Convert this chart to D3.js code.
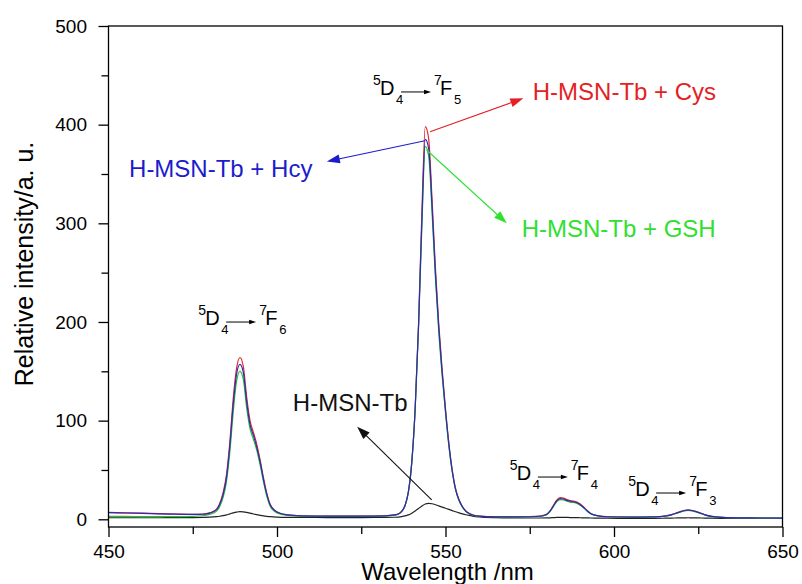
<!DOCTYPE html>
<html>
<head>
<meta charset="utf-8">
<script src="https://cdn.jsdelivr.net/npm/d3@7"></script>
<style>
body { margin: 0; background: white; }
text { font-family: 'Liberation Sans', Arial, sans-serif; }
</style>
</head>
<body>
<script>
const width = 802
const height = 584
const x_left = 108.5
const x_right = 782.5
const y_top = 26
const y_bottom = 527

// wavelength (nm) and intensity
const wavelength = [
    450, 455, 460, 465, 470, 475, 478, 480, 482, 483,
    484, 485, 486, 487, 488, 489, 490, 491, 492, 493,
    494, 495, 496, 497, 498, 500, 503, 507, 515, 525,
    532, 535, 536, 537, 538, 539, 540, 541, 542, 543,
    544, 545, 546, 547, 548, 549, 550, 551, 552, 553,
    554, 555, 556, 557, 558, 560, 565, 570, 575, 578,
    580, 581, 582, 583, 584, 585, 586, 587, 588, 589,
    590, 591, 592, 593, 595, 598, 605, 612, 615, 617,
    619, 621, 622, 623, 625, 627, 629, 632, 640, 650
]
const cys = [
    7.0, 6.6, 6.2, 5.8, 5.4, 5.0, 5.2, 6.5, 10, 16,
    27, 45, 78, 122, 153, 164, 155, 124, 100, 88,
    76, 60, 42, 26, 15, 7.5, 4.5, 3.6, 3.3, 3.3,
    3.6, 4.5, 5.5, 8, 14, 28, 58, 112, 198, 312,
    398, 386, 325, 255, 198, 152, 112, 77, 50, 31,
    20, 13, 8.5, 6, 4.5, 3.3, 2.7, 2.6, 2.7, 3.2,
    5, 8.5, 14, 19.5, 22, 21.5, 20, 19, 18.5, 17.5,
    15.5, 12.5, 9, 6.2, 3.8, 2.7, 2.3, 2.6, 3.3, 4.7,
    7, 9.2, 9.6, 9.2, 7.2, 4.6, 3.0, 2.0, 1.4, 1.2
]
const hcy = [
    6.8, 6.4, 6.0, 5.6, 5.2, 4.9, 5.1, 6.3, 9.5, 15,
    25, 42, 74, 116, 147, 157, 149, 119, 96, 85,
    73, 58, 40, 25, 14.5, 7.3, 4.4, 3.5, 3.2, 3.2,
    3.5, 4.4, 5.4, 8, 14, 28, 58, 112, 196, 304,
    385, 376, 318, 250, 194, 149, 110, 76, 49, 30,
    19.5, 12.8, 8.4, 5.9, 4.4, 3.2, 2.6, 2.5, 2.6, 3.1,
    4.8, 8.2, 13.4, 18.6, 21, 20.6, 19.2, 18.3, 17.8, 16.8,
    14.8, 12, 8.7, 6, 3.7, 2.6, 2.2, 2.5, 3.2, 4.5,
    6.8, 8.9, 9.3, 8.9, 7, 4.5, 2.9, 2.0, 1.4, 1.2
]
const gsh = [
    3.0, 2.9, 2.8, 2.8, 2.8, 3.0, 3.6, 5.0, 8, 13,
    22, 38, 68, 108, 140, 150, 142, 113, 92, 81,
    70, 55, 38, 23, 13, 6.5, 4.0, 3.2, 3.0, 3.0,
    3.3, 4.2, 5.2, 8, 14, 28, 58, 112, 194, 298,
    378, 368, 312, 245, 190, 146, 108, 74, 48, 30,
    19, 12.5, 8.2, 5.8, 4.3, 3.1, 2.6, 2.5, 2.6, 3.0,
    4.6, 7.8, 12.8, 17.8, 20, 19.6, 18.4, 17.5, 17, 16.2,
    14.3, 11.6, 8.4, 5.8, 3.6, 2.6, 2.2, 2.4, 3.1, 4.3,
    6.5, 8.5, 8.9, 8.6, 6.7, 4.3, 2.8, 1.9, 1.3, 1.1
]
const tb = [
    1.6, 1.6, 1.6, 1.6, 1.7, 1.8, 2.0, 2.2, 2.7, 3.1,
    3.7, 4.5, 5.5, 6.5, 7.3, 7.8, 7.6, 7.0, 6.2, 5.4,
    4.7, 4.0, 3.4, 3.0, 2.7, 2.3, 2.0, 1.9, 1.8, 1.8,
    1.9, 2.1, 2.3, 2.7, 3.4, 4.5, 6.2, 8.5, 11, 13.5,
    15.5, 16.2, 15.8, 14.8, 13.6, 12.4, 11.2, 10, 8.8, 7.6,
    6.5, 5.5, 4.6, 3.9, 3.3, 2.5, 1.7, 1.4, 1.3, 1.3,
    1.4, 1.5, 1.7, 1.9, 2.0, 2.0, 1.9, 1.8, 1.8, 1.7,
    1.6, 1.5, 1.4, 1.3, 1.2, 1.1, 1.0, 1.0, 1.1, 1.2,
    1.4, 1.5, 1.6, 1.5, 1.4, 1.2, 1.1, 1.0, 0.9, 0.8
]

const x_ticks = [450, 500, 550, 600, 650]
const x_minor = [475, 525, 575, 625]
const y_ticks = [0, 100, 200, 300, 400, 500]
const y_minor = [50, 150, 250, 350, 450]

const series_names = ['H-MSN-Tb + Cys', 'H-MSN-Tb + GSH', 'H-MSN-Tb + Hcy', 'H-MSN-Tb']
const series_values = [cys, gsh, hcy, tb]
const line_colors = ['#e0242a', '#25bf30', '#2b2bb8', '#222222']
const text_colors = ['#e41f25', '#2fe02f', '#1c1ccc', '#111111']

// label anchor (wavelength, intensity) and arrow start/end, in data units
const label_pos = [[575.9, 425.0], [572.6, 286.4], [456.1, 346.6], [504.7, 110.1]]
const arrow_from = [[545.4, 392.9], [544.4, 374.3], [543.9, 383.7], [545.9, 19.6]]
const arrow_to = [[573.1, 426.7], [568.2, 300.0], [514.8, 362.6], [523.8, 93.9]]

// 5D4 -> 7FJ transitions
const transition_j = ['6', '5', '4', '3']
const transition_pos = [[476.6, 196.9], [528.5, 430.1], [569.1, 39.8], [604.2, 23.6]]

const x = d3.scaleLinear().domain([450, 650]).range([x_left, x_right])
const y = d3.scaleLinear().domain([-7.8, 500]).range([y_bottom, y_top])

const svg = d3.select('body')
    .append('svg')
    .attr('width', width)
    .attr('height', height)

svg.append('rect')
    .attr('width', width)
    .attr('height', height)
    .attr('fill', 'white')

function styleAxis(g) {
    g.select('.domain').remove()
    g.selectAll('line').attr('stroke', 'black').attr('stroke-width', 1.3)
    g.selectAll('text')
        .attr('fill', 'black')
        .attr('font-size', 19)
        .attr('font-family', "'Liberation Sans', Arial, sans-serif")
}

svg.append('g')
    .attr('transform', `translate(0,${y_bottom})`)
    .call(d3.axisBottom(x).tickValues(x_ticks).tickSize(10).tickPadding(7.5).tickFormat(d3.format('d')))
    .call(styleAxis)
svg.append('g')
    .attr('transform', `translate(0,${y_bottom})`)
    .call(d3.axisBottom(x).tickValues(x_minor).tickSize(7).tickFormat(''))
    .call(styleAxis)
svg.append('g')
    .attr('transform', `translate(${x_left},0)`)
    .call(d3.axisLeft(y).tickValues(y_ticks).tickSize(10).tickPadding(11.5).tickFormat(d3.format('d')))
    .call(styleAxis)
svg.append('g')
    .attr('transform', `translate(${x_left},0)`)
    .call(d3.axisLeft(y).tickValues(y_minor).tickSize(7).tickFormat(''))
    .call(styleAxis)

svg.append('defs').append('clipPath')
    .attr('id', 'plot')
    .append('rect')
    .attr('x', x_left)
    .attr('y', y_top)
    .attr('width', x_right - x_left)
    .attr('height', y_bottom - y_top)

const line = d3.line()
    .x((d, i) => x(wavelength[i]))
    .y(d => y(d))
    .curve(d3.curveMonotoneX)

const draw_order = [3, 0, 1, 2]
svg.append('g')
    .attr('clip-path', 'url(#plot)')
    .selectAll('path')
    .data(draw_order)
    .enter()
    .append('path')
    .attr('d', k => line(series_values[k]))
    .attr('fill', 'none')
    .attr('stroke', k => line_colors[k])
    .attr('stroke-width', 1.2)

svg.append('rect')
    .attr('x', x_left)
    .attr('y', y_top)
    .attr('width', x_right - x_left)
    .attr('height', y_bottom - y_top)
    .attr('fill', 'none')
    .attr('stroke', 'black')
    .attr('stroke-width', 1.3)

function arrow(g, x1, y1, x2, y2, color, len, half, sw) {
    let dx = x2 - x1
    let dy = y2 - y1
    let L = Math.hypot(dx, dy)
    let ux = dx / L
    let uy = dy / L
    let bx = x2 - ux * len
    let by = y2 - uy * len
    g.append('line')
        .attr('x1', x1).attr('y1', y1)
        .attr('x2', bx + ux * 1).attr('y2', by + uy * 1)
        .attr('stroke', color)
        .attr('stroke-width', sw)
    g.append('path')
        .attr('d', `M${x2},${y2}L${bx - uy * half},${by + ux * half}L${bx + uy * half},${by - ux * half}Z`)
        .attr('fill', color)
}

const notes = svg.append('g')
series_names.forEach((name, i) => {
    arrow(notes,
        x(arrow_from[i][0]), y(arrow_from[i][1]),
        x(arrow_to[i][0]), y(arrow_to[i][1]),
        text_colors[i], 13, 4.5, 1.1)
    notes.append('text')
        .attr('x', x(label_pos[i][0]))
        .attr('y', y(label_pos[i][1]))
        .attr('font-size', 24)
        .attr('fill', text_colors[i])
        .text(name)
})

transition_j.forEach((j, i) => {
    let x0 = x(transition_pos[i][0])
    let b = y(transition_pos[i][1])
    notes.append('text').attr('x', x0).attr('y', b - 10).attr('font-size', 14).text('5')
    notes.append('text').attr('x', x0 + 7).attr('y', b).attr('font-size', 20).text('D')
    notes.append('text').attr('x', x0 + 23).attr('y', b + 9).attr('font-size', 13).text('4')
    arrow(notes, x0 + 28, b - 3, x0 + 58, b - 3, 'black', 7, 2.3, 1)
    notes.append('text').attr('x', x0 + 61).attr('y', b - 10).attr('font-size', 14).text('7')
    notes.append('text').attr('x', x0 + 67).attr('y', b).attr('font-size', 20).text('F')
    notes.append('text').attr('x', x0 + 81).attr('y', b + 9).attr('font-size', 13).text(j)
})

svg.append('text')
    .attr('x', (x_left + x_right) / 2 + 2)
    .attr('y', 580)
    .attr('text-anchor', 'middle')
    .attr('font-size', 24)
    .text('Wavelength /nm')

svg.append('text')
    .attr('transform', 'translate(33,264) rotate(-90)')
    .attr('text-anchor', 'middle')
    .attr('font-size', 25)
    .text('Relative intensity/a. u.')
</script>
</body>
</html>
